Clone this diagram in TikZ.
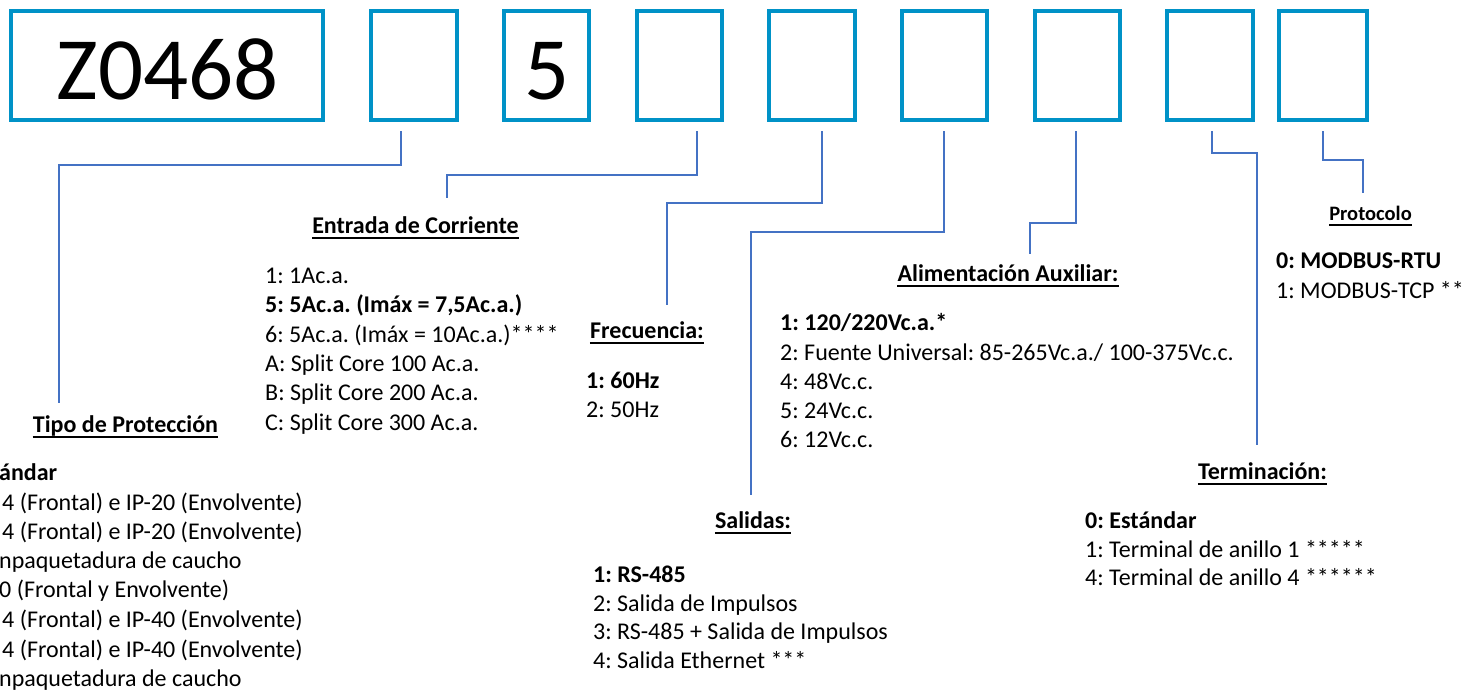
\documentclass[tikz,border=0pt]{standalone}
\usepackage{fontspec}
\setmainfont{Carlito}
\frenchspacing
\definecolor{boxblue}{HTML}{0092C7}
\definecolor{leadblue}{HTML}{4472C4}
\tikzset{
  digitbox/.style={draw=boxblue, line width=4pt, minimum height=109pt, inner sep=0pt, outer sep=0pt},
  bigtxt/.style={font=\fontsize{89}{100}\selectfont, anchor=base, inner sep=0pt},
  lead/.style={draw=leadblue, line width=1.5pt},
  head/.style={font=\fontsize{24}{29}\selectfont\bfseries, anchor=base, inner sep=0pt},
  smallhead/.style={head, font=\fontsize{20.5}{25}\selectfont\bfseries},
  item/.style={font=\fontsize{24}{29}\selectfont, anchor=base west, inner sep=0pt},
  bitem/.style={item, font=\fontsize{24}{29}\selectfont\bfseries},
  uline/.style={line width=1.8pt},
}
\begin{document}
\begin{tikzpicture}[x=1pt, y=-1pt]
\useasboundingbox (0,0) rectangle (1472,694);

% code boxes
\node[digitbox, minimum width=312pt] (B1) at (167,65.5) {};
\node[digitbox, minimum width=86pt]  (B2) at (414,65.5) {};
\node[digitbox, minimum width=85pt]  (B3) at (546.5,65.5) {};
\node[digitbox, minimum width=85pt]  (B4) at (679.5,65.5) {};
\node[digitbox, minimum width=86pt]  (B5) at (812,65.5) {};
\node[digitbox, minimum width=85pt]  (B6) at (944.5,65.5) {};
\node[digitbox, minimum width=85pt]  (B7) at (1077.5,65.5) {};
\node[digitbox, minimum width=86pt]  (B8) at (1210,65.5) {};
\node[digitbox, minimum width=88pt]  (B9) at (1323,65.5) {};
\node[bigtxt] (zcode) at (168,99) {Z0468};
\node[bigtxt] (fivecode) at (547,99.5) {5};

% section headings
\node[head] (hTipo) at (125.5,432) {Tipo de Protección};
\node[head] (hEnt) at (415.5,233) {Entrada de Corriente};
\node[head] (hFrec) at (647,338) {Frecuencia:};
\node[head] (hAli) at (1008,281) {Alimentación Auxiliar:};
\node[head] (hSal) at (753,528) {Salidas:};
\node[smallhead] (hProt) at (1370.5,220) {Protocolo};
\node[head] (hTerm) at (1262.5,479) {Terminación:};
\foreach \h in {hTipo,hEnt,hFrec,hAli,hSal,hProt,hTerm}
  \draw[uline] ([yshift=-5pt]\h.base west) -- ([yshift=-5pt]\h.base east);

% leader end points
\coordinate (e1) at (59,403);
\coordinate (e2) at (447,198);
\coordinate (e3) at (667,305);
\coordinate (e4) at (751,495);
\coordinate (e5) at (1030,254);
\coordinate (e6) at (1257,445);
\coordinate (e7) at (1363,193);

% leaders
\draw[lead] ([xshift=-13pt,yshift=-11pt]B2.south) -- ++(0,34) -| (e1);
\draw[lead] ([xshift=17.5pt,yshift=-11pt]B4.south) -- ++(0,44) -| (e2);
\draw[lead] ([xshift=10pt,yshift=-11pt]B5.south) -- ++(0,72) -| (e3);
\draw[lead] ([xshift=-0.5pt,yshift=-11pt]B6.south) -- ++(0,101) -| (e4);
\draw[lead] ([xshift=-1.5pt,yshift=-11pt]B7.south) -- ++(0,92) -| (e5);
\draw[lead] ([xshift=2pt,yshift=-11pt]B8.south) -- ++(0,22) -| (e6);
\draw[lead] ([yshift=-11pt]B9.south) -- ++(0,29) -| (e7);

% protection type
\node[bitem] (t0) at (-1,480) {ándar};
\node[item] (t1) at (2,510) {4 (Frontal) e IP-20 (Envolvente)};
\node[item] (t2) at (2,539) {4 (Frontal) e IP-20 (Envolvente)};
\node[item] (t2b) at (-1,568) {npaquetadura de caucho};
\node[item] (t3) at (-1,597) {0 (Frontal y Envolvente)};
\node[item] (t4) at (2,627) {4 (Frontal) e IP-40 (Envolvente)};
\node[item] (t5) at (2,657) {4 (Frontal) e IP-40 (Envolvente)};
\node[item] (t5b) at (-1,686) {npaquetadura de caucho};

% current input
\node[item] (c1) at (265,283) {1: 1Ac.a.};
\node[bitem] (c5) at (265,312) {5: 5Ac.a. (Imáx = 7,5Ac.a.)};
\node[item] (c6) at (265,342) {6: 5Ac.a. (Imáx = 10Ac.a.)****};
\node[item] (cA) at (265,371) {A: Split Core 100 Ac.a.};
\node[item] (cB) at (265,400) {B: Split Core 200 Ac.a.};
\node[item] (cC) at (265,430) {C: Split Core 300 Ac.a.};

% frequency
\node[bitem] (f1) at (586,388) {1: 60Hz};
\node[item] (f2) at (586,417) {2: 50Hz};

% auxiliary supply
\node[bitem] (a1) at (780,330) {1: 120/220Vc.a.*};
\node[item] (a2) at (780,360) {2: Fuente Universal: 85-265Vc.a./ 100-375Vc.c.};
\node[item] (a4) at (780,389) {4: 48Vc.c.};
\node[item] (a5) at (780,418) {5: 24Vc.c.};
\node[item] (a6) at (780,447) {6: 12Vc.c.};

% outputs
\node[bitem] (s1) at (593,582) {1: RS-485};
\node[item] (s2) at (593,611) {2: Salida de Impulsos};
\node[item] (s3) at (593,639) {3: RS-485 + Salida de Impulsos};
\node[item] (s4) at (593,668) {4: Salida Ethernet ***};

% protocol
\node[bitem] (p0) at (1276,268) {0: MODBUS-RTU};
\node[item] (p1) at (1276,298) {1: MODBUS-TCP **};

% termination
\node[bitem] (r0) at (1085,528) {0: Estándar};
\node[item] (r1) at (1085,557) {1: Terminal de anillo 1 *****};
\node[item] (r4) at (1085,585) {4: Terminal de anillo 4 ******};
\end{tikzpicture}
\end{document}
